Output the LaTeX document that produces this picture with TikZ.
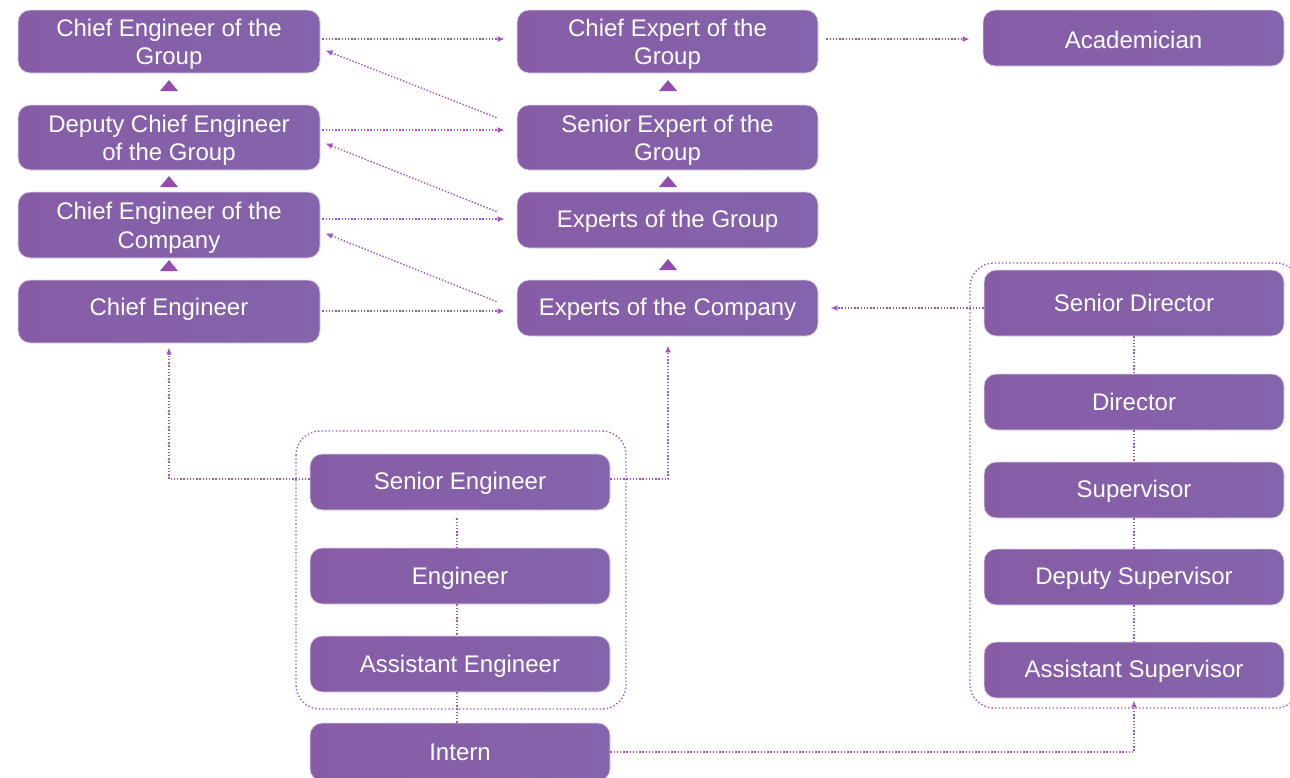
\documentclass[tikz,border=0pt]{standalone}
\usepackage{fontspec}
\setmainfont{Liberation Sans}
\usetikzlibrary{calc,arrows.meta}
\definecolor{boxA}{RGB}{134,92,166}
\definecolor{boxB}{RGB}{160,126,192}
\definecolor{boxC}{RGB}{132,100,172}
\definecolor{linec}{RGB}{160,88,190}
\definecolor{trif}{RGB}{148,76,176}
\tikzset{
  box/.style={rounded corners=12pt, left color=boxA, middle color=boxB, right color=boxC,
    draw=white!75!boxA, line width=0.8pt, text=white, align=center, inner sep=0pt,
    font=\fontsize{24}{28.5}\selectfont},
  conn/.style={draw=linec, line width=1.4pt, dash pattern=on 1.4pt off 1.8pt},
  arr/.style={conn, -{Latex[length=7pt,width=6pt]}},
  grp/.style={draw=linec, line width=1.4pt, dash pattern=on 1.4pt off 2.2pt, rounded corners=24pt},
  tri/.style={fill=trif}
}
\newcommand{\bx}[6]{% name, x1, y1, x2, y2, text
  \node[box, minimum width={(#4-#2)*1pt}, minimum height={(#5-#3)*1pt}] (#1) at ({(#2+#4)/2},{(#3+#5)/2}) {#6};}
\newcommand{\twol}[2]{\raisebox{-3.5pt}[\height][\depth]{\begin{tabular}{@{}c@{}}#1\\#2\end{tabular}}}
\newcommand{\onel}[1]{\raisebox{-1.5pt}[\height][\depth]{#1}}
\newcommand{\trimark}[2]{\fill[tri] (#1-9,#2) -- (#1+9,#2) -- (#1,#2-11) -- cycle;}
\begin{document}
\begin{tikzpicture}[x=1pt,y=-1pt]
\useasboundingbox (0,0) rectangle (1290,777);
% group frames
\draw[grp] (296,431) rectangle (626,709);
\draw[grp] (970,263) rectangle (1300,708);
% left column
\bx{ceg}{18}{10}{320}{73}{\twol{Chief Engineer of the}{Group}}
\bx{dceg}{18}{105}{320}{170}{\twol{Deputy Chief Engineer}{of the Group}}
\bx{cec}{18}{192}{320}{258}{\twol{Chief Engineer of the}{Company}}
\bx{ce}{18}{280}{320}{343}{\raisebox{2pt}[\height][\depth]{Chief Engineer}}
% middle column
\bx{cexg}{517}{10}{818}{73}{\twol{Chief Expert of the}{Group}}
\bx{seg}{517}{105}{818}{170}{\twol{Senior Expert of the}{Group}}
\bx{eg}{517}{192}{818}{248}{\onel{Experts of the Group}}
\bx{ec}{517}{280}{818}{336}{\onel{Experts of the Company}}
\bx{acad}{983}{10}{1284}{66}{\onel{Academician}}
% right column
\bx{sd}{984}{270}{1284}{336}{Senior Director}
\bx{dir}{984}{374}{1284}{430}{Director}
\bx{sup}{984}{462}{1284}{518}{\onel{Supervisor}}
\bx{dsup}{984}{549}{1284}{605}{\onel{Deputy Supervisor}}
\bx{asup}{984}{642}{1284}{698}{\onel{Assistant Supervisor}}
% engineering column
\bx{se}{310}{454}{610}{510}{\onel{Senior Engineer}}
\bx{eng}{310}{548}{610}{604}{\raisebox{-2.5pt}[\height][\depth]{Engineer}}
\bx{ae}{310}{636}{610}{692}{\raisebox{-2.5pt}[\height][\depth]{Assistant Engineer}}
\bx{intern}{310}{723}{610}{781}{Intern}
% triangles
\trimark{169}{91}\trimark{169}{187}\trimark{169}{271}
\trimark{668}{91}\trimark{668}{187}\trimark{668}{270}
% horizontal arrows
\draw[arr] ($(ceg.east)+(2,-2.5)$) -- ($(cexg.west)+(-12,-2.5)$);
\draw[arr] ($(cexg.east)+(8,-2.5)$) -- ($(acad.west)+(-13,1)$);
\draw[arr] ($(dceg.east)+(2,-7.5)$) -- ($(seg.west)+(-12,-7.5)$);
\draw[arr] ($(cec.east)+(2,-6)$) -- ($(eg.west)+(-12,-1)$);
\draw[arr] ($(ce.east)+(2,-0.5)$) -- ($(ec.west)+(-12,3)$);
% diagonal arrows
\draw[arr] ($(seg.north west)+(-20,13)$) -- ($(ceg.south east)+(5,-23)$);
\draw[arr] ($(eg.north west)+(-20,20)$) -- ($(dceg.south east)+(5,-27)$);
\draw[arr] ($(ec.north west)+(-20,22)$) -- ($(cec.south east)+(5,-25)$);
% senior director to experts of the company
\draw[arr] ($(sd.west)+(0,5)$) -- ($(ec.east)+(12,0)$);
% senior engineer up
\coordinate (seL) at (169,479);
\coordinate (seR) at (668,479);
\draw[arr] ($(se.west)+(0,-3)$) -- (seL) -- ($(ce.south)+(0,4)$);
\draw[arr] ($(se.east)+(0,-3)$) -- (seR) -- ($(ec.south)+(0.5,9)$);
% vertical links engineering
\draw[conn] ($(se.south)+(-3,8)$) -- ($(eng.north)+(-3,0)$);
\draw[conn] ($(eng.south)+(-3,0)$) -- ($(ae.north)+(-3,0)$);
\draw[conn] ($(ae.south)+(-3,0)$) -- ($(intern.north)+(-3,0)$);
% vertical links right column
\draw[conn] (sd.south) -- (dir.north);
\draw[conn] (dir.south) -- (sup.north);
\draw[conn] (sup.south) -- (dsup.north);
\draw[conn] (dsup.south) -- (asup.north);
% intern to assistant supervisor
\coordinate (intR) at (1134,752);
\draw[arr] (intern.east |- intR) -- (intR) -- ($(asup.south)+(0,2)$);
\end{tikzpicture}
\end{document}
